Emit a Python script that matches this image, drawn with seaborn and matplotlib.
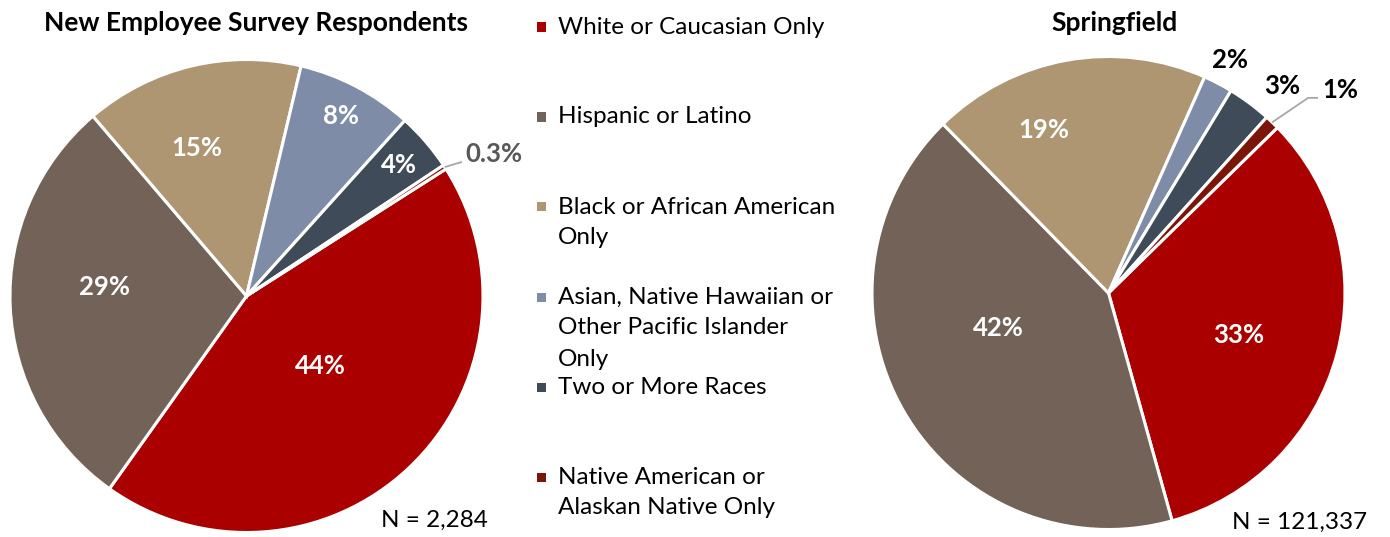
import matplotlib
matplotlib.use("Agg")
import matplotlib.pyplot as plt
from matplotlib.patches import Rectangle
import numpy as np
import seaborn as sns

# ---- data -------------------------------------------------------------
categories = [
    "White or Caucasian Only",
    "Hispanic or Latino",
    "Black or African American\nOnly",
    "Asian, Native Hawaiian or\nOther Pacific Islander\nOnly",
    "Two or More Races",
    "Native American or\nAlaskan Native Only",
]
survey_pct = [44, 29, 15, 8, 4, 0.3]
springfield_pct = [33, 42, 19, 2, 3, 1]
survey_labels = ["44%", "29%", "15%", "8%", "4%", "0.3%"]
springfield_labels = ["33%", "42%", "19%", "2%", "3%", "1%"]
titles = ["New Employee Survey Respondents", "Springfield"]
sample_sizes = ["N = 2,284", "N = 121,337"]

# ---- style ------------------------------------------------------------
palette = sns.color_palette(
    ["#AB0000", "#736257", "#AD9671", "#7F8CA8", "#404B5A", "#7A1508"]
)
sns.set_theme(style="white")
plt.rcParams["font.family"] = ["Lato", "DejaVu Sans"]

LABEL_FS = 18.5
TEXT_FS = 17.5
TITLE_FS = 19

W, H = 1390, 537
fig = plt.figure(figsize=(W / 100, H / 100), dpi=100)
fig.patch.set_facecolor("white")


def fx(x):
    return x / W


def fy(y):
    return 1 - y / H


def pie_axes(cx, cy, r):
    """Axes whose data unit is the pie radius, centred on pixel (cx, cy)."""
    ax = fig.add_axes([(cx - r) / W, (H - cy - r) / H, 2 * r / W, 2 * r / H])
    return ax


def draw_pie(ax, values, labels, start, inside, outside):
    wedges, _ = ax.pie(
        values,
        colors=palette,
        startangle=start,
        counterclock=False,
        radius=1.0,
        wedgeprops=dict(edgecolor="white", linewidth=2.2),
    )
    ax.set_xlim(-1, 1)
    ax.set_ylim(-1, 1)
    ax.set_axis_off()
    for i, w in enumerate(wedges):
        mid = np.deg2rad((w.theta1 + w.theta2) / 2)
        if i in inside:
            dist, nudge = inside[i]
            a = mid + np.deg2rad(nudge)
            ax.text(dist * np.cos(a), dist * np.sin(a), labels[i],
                    ha="center", va="center", color="white",
                    fontsize=LABEL_FS, fontweight="bold")
        elif i in outside:
            spec = outside[i]
            if spec["kind"] == "polar":
                a = mid + np.deg2rad(spec["nudge"])
                ax.text(spec["dist"] * np.cos(a), spec["dist"] * np.sin(a),
                        labels[i], ha="center", va="center",
                        color=spec["color"], fontsize=LABEL_FS,
                        fontweight="bold")
            else:
                sx, sy = np.cos(mid), np.sin(mid)
                pts = [(sx, sy)] + spec["path"]
                xs, ys = zip(*pts)
                ax.plot(xs, ys, color="#A6A6A6", lw=1.3,
                        solid_capstyle="butt", clip_on=False)
                tx, ty = spec["text"]
                ax.text(tx, ty, labels[i], ha="left", va="center",
                        color=spec["color"], fontsize=LABEL_FS,
                        fontweight="bold")
    return wedges


# ---- left pie ---------------------------------------------------------
ax1 = pie_axes(246.5, 296, 236.5)
draw_pie(
    ax1, survey_pct, survey_labels, start=32.5,
    inside={0: (0.43, 2.8), 1: (0.60, -6.3), 2: (0.66, 5.0),
            3: (0.86, 0.0), 4: (0.85, 0.0)},
    outside={5: dict(kind="leader", path=[(0.911, 0.567)],
                     text=(0.925, 0.60), color="#595959")},
)

# ---- right pie --------------------------------------------------------
ax2 = pie_axes(1108.5, 293, 236.5)
draw_pie(
    ax2, springfield_pct, springfield_labels, start=44.4,
    inside={0: (0.58, -3.0), 1: (0.49, -12.5), 2: (0.74, 11.5)},
    outside={3: dict(kind="polar", dist=1.11, nudge=0.0, color="black"),
             4: dict(kind="polar", dist=1.14, nudge=-3.4, color="black"),
             5: dict(kind="leader", path=[(0.844, 0.825), (0.886, 0.825)],
                     text=(0.905, 0.858), color="black")},
)

# ---- titles and sample sizes -----------------------------------------
fig.text(fx(256), fy(23), titles[0], ha="center", va="center",
         fontsize=TITLE_FS, fontweight="bold", color="black")
fig.text(fx(1115), fy(23), titles[1], ha="center", va="center",
         fontsize=TITLE_FS, fontweight="bold", color="black")
fig.text(fx(381), fy(520), sample_sizes[0], ha="left", va="center",
         fontsize=TEXT_FS, color="black")
fig.text(fx(1232), fy(522), sample_sizes[1], ha="left", va="center",
         fontsize=TEXT_FS, color="black")

# ---- legend -----------------------------------------------------------
row_gap, line_gap = 90, 31
for i, (name, col) in enumerate(zip(categories, palette)):
    y0 = 27 + row_gap * i
    fig.add_artist(Rectangle((fx(537), fy(y0 + 4.5)), 9 / W, 9 / H,
                             transform=fig.transFigure, facecolor=col,
                             edgecolor="none"))
    for k, line in enumerate(name.split("\n")):
        fig.text(fx(558), fy(y0 + line_gap * k), line, ha="left",
                 va="center", fontsize=TEXT_FS, color="black")

fig.savefig("out.png", dpi=100, facecolor="white")
